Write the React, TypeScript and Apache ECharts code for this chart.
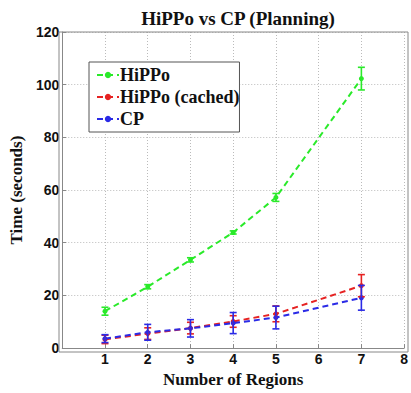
import React, { useEffect, useRef } from "react";
import * as echarts from "echarts";

const regions = [1, 2, 3, 4, 5, 7];
const hippo = [14, 23.3, 33.5, 43.9, 57.2, 102.3];
const hippoErr = [1.5, 0.8, 0.8, 0.6, 1.5, 4.3];
const cached = [3.3, 5.5, 7.6, 10.1, 13, 23.7];
const cachedErr = [1.6, 2.2, 2.2, 2.2, 3, 4.2];
const cp = [3.6, 6, 7.5, 9.5, 11.6, 19.1];
const cpErr = [1.5, 3, 3.3, 4, 4.3, 4.7];
const yTicks = [0, 20, 40, 60, 80, 100, 120];

const colors = { hippo: "#2aea2a", cached: "#e62222", cp: "#2a2ae6" };

const serif = "Liberation Serif";
const sans = "Liberation Sans";

function lineSeries(name: string, vals: number[], color: string) {
  return {
    name,
    type: "line",
    data: regions.map((r, i) => [r, vals[i]]),
    symbol: "circle",
    symbolSize: 5,
    lineStyle: { color, width: 2, type: [6, 4] },
    itemStyle: { color },
    z: 3,
  };
}

function errSeries(vals: number[], errs: number[], color: string) {
  return {
    type: "custom",
    data: regions.map((r, i) => [r, vals[i] - errs[i], vals[i] + errs[i]]),
    z: 4,
    renderItem: (params: any, api: any) => {
      const x = api.value(0);
      const lo = api.coord([x, api.value(1)]);
      const hi = api.coord([x, api.value(2)]);
      const w = 3.5;
      const style = { stroke: color, lineWidth: 1.6, fill: "none" };
      return {
        type: "group",
        children: [
          { type: "line", shape: { x1: lo[0], y1: lo[1], x2: hi[0], y2: hi[1] }, style },
          { type: "line", shape: { x1: lo[0] - w, y1: lo[1], x2: lo[0] + w, y2: lo[1] }, style },
          { type: "line", shape: { x1: hi[0] - w, y1: hi[1], x2: hi[0] + w, y2: hi[1] }, style },
        ],
      };
    },
  };
}

export default function App() {
  const ref = useRef<HTMLDivElement>(null);
  useEffect(() => {
    const chart = echarts.init(ref.current!, null, { renderer: "svg" });
    chart.setOption({
      animation: false,
      backgroundColor: "#ffffff",
      title: {
        text: "HiPPo vs CP (Planning)",
        left: 233,
        textAlign: "center",
        top: 4,
        textStyle: { fontFamily: serif, fontWeight: "bold", fontSize: 19, color: "#111" },
      },
      legend: {
        data: ["HiPPo", "HiPPo (cached)", "CP"],
        orient: "vertical",
        left: 89,
        top: 62,
        itemWidth: 22,
        itemHeight: 8,
        itemGap: 4,
        padding: [4, 0, 4, 7],
        borderColor: "#555",
        borderWidth: 1,
        backgroundColor: "#ffffff",
        textStyle: {
          fontFamily: serif,
          fontWeight: "bold",
          fontSize: 18,
          lineHeight: 18,
          color: "#111",
          padding: [0, 0, 0, -4],
        },
      },
      grid: { left: 59, right: 3, top: 32, bottom: 41 },
      xAxis: {
        type: "value",
        min: 0,
        max: 8,
        interval: 1,
        name: "Number of Regions",
        nameLocation: "middle",
        nameGap: 19,
        nameTextStyle: { fontFamily: serif, fontWeight: "bold", fontSize: 17, color: "#111" },
        axisLine: { show: true, lineStyle: { color: "#888" } },
        axisTick: { show: true, inside: true, length: 4, lineStyle: { color: "#888" } },
        axisLabel: {
          fontFamily: sans,
          fontWeight: "bold",
          fontSize: 14,
          color: "#111",
          margin: 4,
          formatter: (v: number) => (v === 0 ? "" : String(v)),
        },
        splitLine: { show: true, lineStyle: { color: "#bbb", type: [1, 2] } },
      },
      yAxis: {
        type: "value",
        min: 0,
        max: 120,
        interval: 20,
        name: "Time (seconds)",
        nameLocation: "middle",
        nameGap: 30,
        nameTextStyle: { fontFamily: serif, fontWeight: "bold", fontSize: 17, color: "#111" },
        axisLine: { show: true, lineStyle: { color: "#888" } },
        axisTick: { show: true, inside: true, length: 4, lineStyle: { color: "#888" } },
        axisLabel: {
          fontFamily: sans,
          fontWeight: "bold",
          fontSize: 14,
          color: "#111",
          margin: 3,
          formatter: (v: number) => (yTicks.includes(v) ? String(v) : ""),
        },
        splitLine: { show: true, lineStyle: { color: "#bbb", type: [1, 2] } },
      },
      graphic: [
        {
          type: "rect",
          shape: { x: 59, y: 32, width: 349, height: 320 },
          style: { fill: "none", stroke: "#888", lineWidth: 1 },
          silent: true,
          z: 1,
        },
      ],
      series: [
        lineSeries("HiPPo", hippo, colors.hippo),
        lineSeries("HiPPo (cached)", cached, colors.cached),
        lineSeries("CP", cp, colors.cp),
        errSeries(hippo, hippoErr, colors.hippo),
        errSeries(cached, cachedErr, colors.cached),
        errSeries(cp, cpErr, colors.cp),
      ],
    });
    return () => chart.dispose();
  }, []);
  return (
    <div
      ref={ref}
      style={{ position: "fixed", left: 0, top: 0, width: 411, height: 393 }}
    />
  );
}
